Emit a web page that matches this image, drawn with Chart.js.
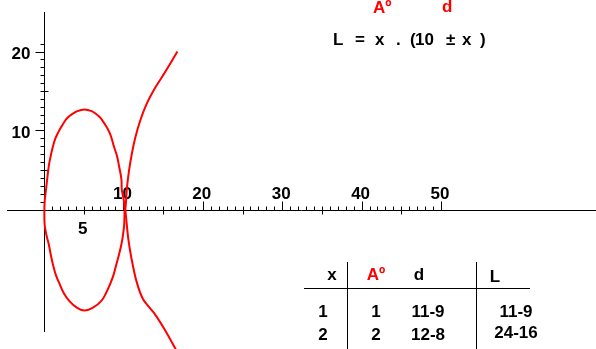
<!DOCTYPE html>
<html>
<head>
<meta charset="utf-8">
<script src="https://cdn.jsdelivr.net/npm/chart.js@4.4.1/dist/chart.umd.min.js"></script>
<style>
  html, body { margin: 0; padding: 0; background: #ffffff; }
  #c { display: block; }
</style>
</head>
<body>
<canvas id="c" width="596" height="349"></canvas>
<script>
// ---- data ----
const ellipseX = [10.15, 10.05, 9.8, 9.75, 9.45, 9.2, 8.8, 8.55, 8.27, 7.85, 7.3, 7.0, 6.6, 6.0, 5.1, 4.2, 3.45, 3.0, 2.7, 2.2, 1.76, 1.4, 1.13, 0.84, 0.6, 0.4, 0.25, 0.1, 0.05,
                  0.08, 0.3, 0.6, 0.85, 1.13, 1.5, 2.0, 2.5, 3.2, 4.1, 5.1, 6.2, 7.2, 7.8, 8.3, 8.75, 9.1, 9.45, 9.75, 9.95, 10.1, 10.15];
const ellipseY = [0, 1.2, 2.5, 3.8, 5.5, 6.75, 8.0, 8.9, 9.7, 10.5, 11.35, 11.7, 12.05, 12.45, 12.65, 12.45, 12.0, 11.65, 11.3, 10.5, 9.7, 8.9, 8.0, 6.75, 5.5, 3.8, 2.5, 1.2, 0,
                  -1.9, -3.2, -4.4, -5.7, -7.0, -8.3, -9.5, -10.6, -11.6, -12.4, -12.8, -12.4, -11.6, -10.6, -9.5, -8.3, -7.0, -5.7, -4.4, -3.2, -1.9, 0];
const branchX = [16.8, 15.2, 14.0, 12.9, 12.1, 11.5, 11.05, 10.7, 10.45, 10.3, 10.25, 10.3, 10.6, 11.0, 11.65, 12.5, 14.0, 15.2, 16.6];
const branchY = [20.0, 17.3, 15.4, 13.3, 11.2, 9.1, 7.0, 4.85, 2.75, 0.6, 0, -0.6, -3.6, -6.1, -9.1, -11.4, -13.3, -15.2, -17.7];

const xTickValues = [10, 20, 30, 40, 50];
const xTickLabels = ["10", "20", "30", "40", "50"];
const yTickValues = [10, 20];
const yTickLabels = ["10", "20"];
const xExtraValue = 5;
const xExtraLabel = "5";

const tableHeaders = ["x", "Aº", "d", "L"];
const tableRows = [
  ["1", "1", "11-9", "11-9"],
  ["2", "2", "12-8", "24-16"]
];
const formulaParts = ["L", "=", "x", ".", "(", "10", "±", "x", ")"];

function pts(xs, ys) { return xs.map((x, i) => ({ x: x, y: ys[i] })); }

const FONT = 'bold 17px "Liberation Sans", Arial, sans-serif';

const axesPlugin = {
  id: 'axesPlugin',
  beforeDatasetsDraw(chart) {
    const ctx = chart.ctx;
    const xs = chart.scales.x, ys = chart.scales.y;
    const x0 = Math.round(xs.getPixelForValue(0)) + 0.5;
    const y0 = Math.round(ys.getPixelForValue(0)) + 0.5;
    ctx.save();
    ctx.strokeStyle = '#000000';
    ctx.lineWidth = 1;
    ctx.beginPath();
    ctx.moveTo(7, y0); ctx.lineTo(596, y0);
    ctx.moveTo(x0, 12); ctx.lineTo(x0, 332);
    for (let v = 1; v <= 50; v++) {
      const px = Math.round(xs.getPixelForValue(v)) + 0.5;
      if (v % 10 === 0) { ctx.moveTo(px, y0 - 9); ctx.lineTo(px, y0); }
      else if (v % 5 === 0) { ctx.moveTo(px, y0 - 4); ctx.lineTo(px, y0 + 4); }
      else { ctx.moveTo(px, y0 - 4); ctx.lineTo(px, y0); }
    }
    for (let v = 1; v <= 21; v++) {
      const py = Math.round(ys.getPixelForValue(v)) + 0.5;
      if (v % 10 === 0) { ctx.moveTo(x0 - 9, py); ctx.lineTo(x0, py); }
      else if (v % 5 === 0) { ctx.moveTo(x0 - 4, py); ctx.lineTo(x0 + 4, py); }
      else { ctx.moveTo(x0 - 4, py); ctx.lineTo(x0, py); }
    }
    ctx.stroke();

    ctx.fillStyle = '#000000';
    ctx.font = FONT;
    ctx.textBaseline = 'alphabetic';
    ctx.textAlign = 'center';
    xTickValues.forEach((v, i) => {
      ctx.fillText(xTickLabels[i], xs.getPixelForValue(v) - 1, y0 - 12);
    });
    ctx.fillText(xExtraLabel, xs.getPixelForValue(xExtraValue) - 1, y0 + 23);
    ctx.textAlign = 'right';
    yTickValues.forEach((v, i) => {
      ctx.fillText(yTickLabels[i], x0 - 14, ys.getPixelForValue(v) + 7);
    });
    ctx.restore();
  },
  afterDraw(chart) {
    const ctx = chart.ctx;
    ctx.save();
    ctx.font = FONT;
    ctx.textBaseline = 'alphabetic';
    ctx.textAlign = 'left';
    ctx.fillStyle = '#ff0000';
    ctx.fillText("Aº", 373, 13);
    ctx.fillText("d", 442, 12);
    ctx.fillStyle = '#000000';
    const fx = [333, 355, 375, 396, 410, 415, 446, 462, 480];
    formulaParts.forEach((t, i) => ctx.fillText(t, fx[i], 45));

    const colX = [332, 376, 419, 495];
    ctx.textAlign = 'center';
    tableHeaders.forEach((t, i) => {
      ctx.fillStyle = (i === 1) ? '#ff0000' : '#000000';
      ctx.fillText(t, colX[i], i === 3 ? 282 : 280);
    });
    ctx.fillStyle = '#000000';
    const rowX = [323, 376, 428, 516];
    const rowY = [317, 340];
    tableRows.forEach((row, r) => {
      row.forEach((t, i) => {
        ctx.fillText(t, rowX[i], (i === 3 && r === 1) ? 338 : rowY[r]);
      });
    });
    ctx.strokeStyle = '#000000';
    ctx.lineWidth = 1;
    ctx.beginPath();
    ctx.moveTo(304, 288.5); ctx.lineTo(530, 288.5);
    ctx.moveTo(347.5, 262); ctx.lineTo(347.5, 349);
    ctx.moveTo(476.5, 262); ctx.lineTo(476.5, 349);
    ctx.stroke();
    ctx.restore();
  }
};

const PXU_X = 7.94, PXU_Y = 7.9;
new Chart(document.getElementById('c'), {
  type: 'scatter',
  data: {
    datasets: [
      { data: pts(ellipseX, ellipseY), showLine: true, borderColor: '#ff0000', borderWidth: 2, pointRadius: 0, tension: 0.4, fill: false },
      { data: pts(branchX, branchY), showLine: true, borderColor: '#ff0000', borderWidth: 2, pointRadius: 0, tension: 0.2, fill: false }
    ]
  },
  options: {
    responsive: false,
    animation: false,
    events: [],
    layout: { padding: 0 },
    plugins: { legend: { display: false }, tooltip: { enabled: false } },
    scales: {
      x: { type: 'linear', display: false, min: -44 / PXU_X, max: 552 / PXU_X },
      y: { type: 'linear', display: false, min: -(349 - 209.5) / PXU_Y, max: 209.5 / PXU_Y }
    }
  },
  plugins: [axesPlugin]
});
</script>
</body>
</html>
